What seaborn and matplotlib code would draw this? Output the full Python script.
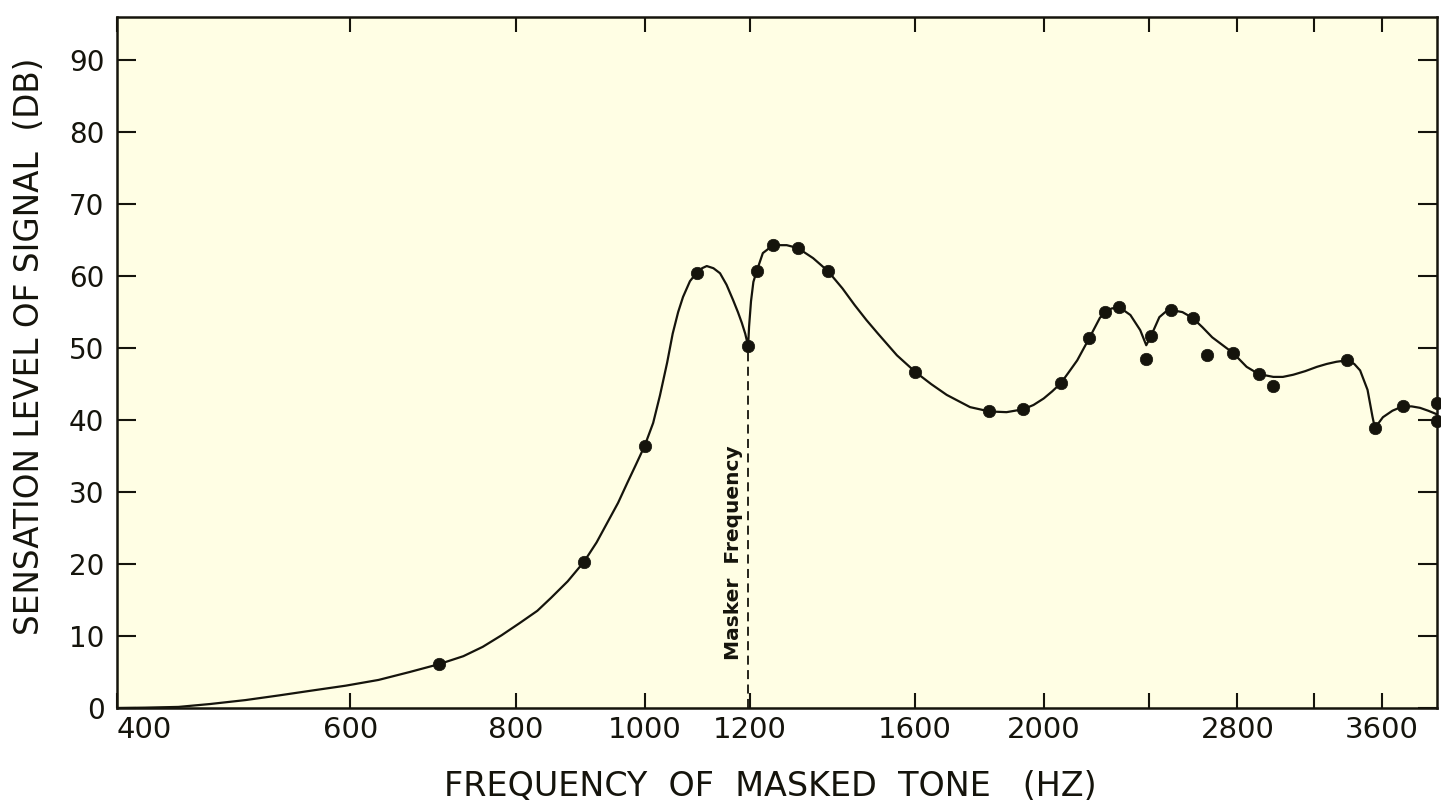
import seaborn as sns
import matplotlib.pyplot as plt

# measured points (frequency of masked tone in Hz, sensation level in dB)
point_freq = [700, 900, 1000, 1095, 1197, 1215, 1250, 1305, 1375, 1600, 1820, 1930,
              2060, 2165, 2225, 2280, 2390, 2410, 2495, 2590, 2655, 2780, 2905, 2980,
              3385, 3555, 3730, 3960, 3960]
point_level = [6.1, 20.3, 36.4, 60.5, 50.3, 60.7, 64.3, 63.9, 60.7, 46.7, 41.2, 41.5,
               45.1, 51.4, 55.0, 55.7, 48.5, 51.7, 55.3, 54.2, 49.0, 49.3, 46.4, 44.7,
               48.3, 38.9, 41.9, 42.4, 39.9]

# hand-drawn smooth curve
curve_freq = [400, 420, 445, 470, 500, 530, 560, 595, 630, 665, 700, 730, 755, 780, 805,
              830, 850, 875, 900, 920, 937, 955, 970, 985, 1000,
              1015, 1027, 1040, 1050, 1060, 1069, 1082, 1095, 1105, 1114, 1127, 1140, 1153,
              1166, 1176, 1184, 1191, 1197,
              1199, 1203, 1208, 1215, 1228, 1250, 1280, 1305, 1340, 1375, 1410, 1440, 1470,
              1500, 1550, 1600, 1645, 1690, 1760, 1820, 1875, 1930, 1965, 2000, 2030, 2060,
              2090, 2120, 2165, 2205, 2225, 2250, 2280, 2325, 2365, 2390, 2410, 2445, 2470,
              2495, 2545, 2590, 2635, 2680, 2780, 2845, 2905, 2980, 3030, 3085, 3150, 3215,
              3270, 3325, 3385, 3430, 3465, 3510, 3540, 3555, 3605, 3665, 3730, 3790, 3845,
              3900, 3960]
curve_level = [0, 0.05, 0.15, 0.55, 1.1, 1.75, 2.4, 3.1, 3.9, 5.0, 6.1, 7.2, 8.5, 10.1, 11.8,
               13.5, 15.3, 17.6, 20.3, 23.0, 25.7, 28.5, 31.2, 33.8, 36.4,
               39.6, 43.4, 48.0, 52.0, 55.0, 57.1, 59.3, 60.5, 61.1, 61.4, 61.1, 60.4, 58.8,
               56.7, 55.0, 53.5, 52.0, 50.3,
               53.0, 56.5, 59.2, 60.7, 63.2, 64.3, 64.3, 63.9, 62.5, 60.7, 58.3, 56.0, 53.9,
               52.0, 49.0, 46.7, 45.0, 43.5, 41.8, 41.2, 41.1, 41.5, 42.1, 43.0, 44.0, 45.1,
               46.7, 48.3, 51.4, 54.2, 55.0, 55.5, 55.7, 54.6, 52.5, 50.4, 51.7, 54.3, 55.0,
               55.3, 55.0, 54.2, 52.9, 51.5, 49.3, 47.4, 46.4, 46.0, 46.0, 46.3, 46.8, 47.4,
               47.8, 48.1, 48.3, 47.8, 46.9, 44.2, 40.5, 38.9, 40.4, 41.3, 41.9, 41.9, 41.7,
               41.3, 40.8]

masker_freq = 1197
masker_level = 50.3

x_ticks = [400, 600, 800, 1000, 1200, 1600, 2000, 2400, 2800, 3200, 3600]
x_labels = ['400', '600', '800', '1000', '1200', '1600', '2000', '', '2800', '', '3600']
y_ticks = [0, 10, 20, 30, 40, 50, 60, 70, 80, 90]

ink = '#15140c'

sns.set_style('ticks')
plt.rcParams['font.family'] = ['DejaVu Sans']

fig = plt.figure(figsize=(14.41, 8.09), dpi=100)
ax = fig.add_axes([117 / 1441, 101 / 809, 1320 / 1441, 691 / 809])
ax.set_facecolor('#fffee4')

sns.lineplot(x=curve_freq, y=curve_level, sort=False, estimator=None,
             color=ink, linewidth=1.6, ax=ax)
sns.scatterplot(x=point_freq, y=point_level, s=80, color=ink, edgecolor=ink,
                linewidth=0.5, zorder=3, clip_on=False, ax=ax)

# masker frequency marker
ax.plot([masker_freq, masker_freq], [0, masker_level], color=ink,
        linestyle=(0, (5, 3)), linewidth=1.3)
ax.text(1168, 6.7, 'Masker  Frequency', rotation=90, ha='center', va='bottom',
        fontsize=14.5, color=ink, fontweight='bold')

ax.set_xscale('log')
ax.set_xlim(400, 3960)
ax.set_ylim(0, 96)
ax.set_xticks(x_ticks)
ax.set_xticklabels(x_labels)
ax.minorticks_off()
ax.set_yticks(y_ticks)
ax.set_yticklabels([str(v) for v in y_ticks])
ax.get_xticklabels()[0].set_horizontalalignment('left')

ax.tick_params(axis='both', direction='in', top=True, right=True, width=1.5,
               color=ink, labelcolor=ink)
ax.tick_params(axis='x', length=11, pad=6, labelsize=21)
ax.tick_params(axis='y', length=14, pad=9, labelsize=20)
for side in ax.spines.values():
    side.set_linewidth(1.8)
    side.set_color(ink)

ax.set_xlabel('FREQUENCY  OF  MASKED  TONE   (HZ)', fontsize=24, color=ink, va='center')
ax.xaxis.set_label_coords(0.495, -0.114)
ax.set_ylabel('SENSATION LEVEL OF SIGNAL  (DB)', fontsize=23.5, color=ink, va='center')
ax.yaxis.set_label_coords(-0.066, 0.524)

fig.savefig('out.png', dpi=100, facecolor='white')
